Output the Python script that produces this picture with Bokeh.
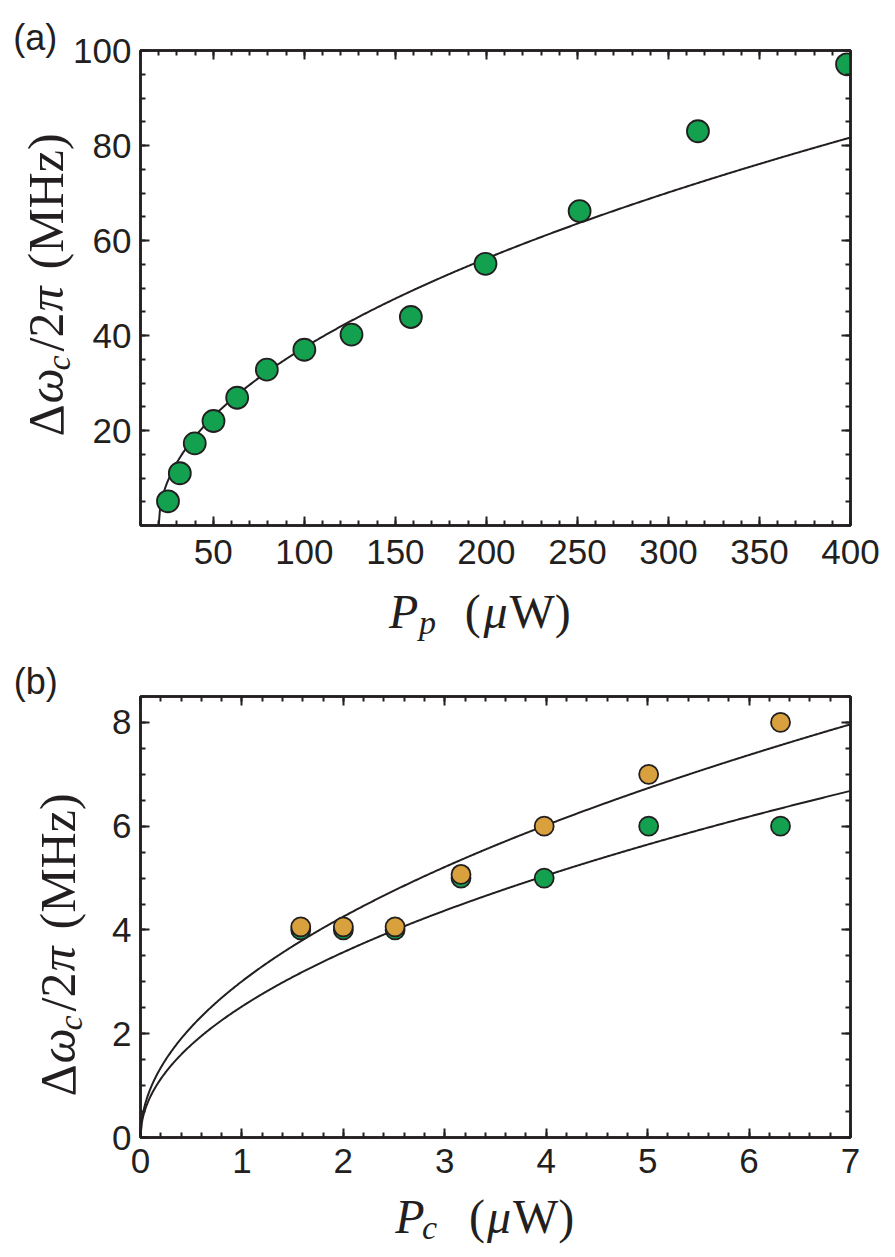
import numpy as np
from bokeh.plotting import figure
from bokeh.models import LinearAxis, FixedTicker, Range1d
from bokeh.core.properties import value
from bokeh.layouts import column
from bokeh.embed import file_html
from bokeh.resources import INLINE

# ---- panel (a): cavity shift vs pump power ----
pump_power_uw = [25.1, 31.6, 39.8, 50.1, 63.1, 79.4, 100.0, 125.9, 158.5, 199.5, 251.2, 316.2, 398.1]
shift_a_mhz = [5.1, 11.0, 17.3, 22.0, 26.9, 32.8, 37.0, 40.2, 43.9, 55.1, 66.2, 83.0, 97.1]
# square-root threshold fit: A * sqrt(P - P_th)
fit_a_amp = 4.19
fit_a_threshold = 20.0

xticks_a = [50, 100, 150, 200, 250, 300, 350, 400]
yticks_a = [20, 40, 60, 80, 100]

# ---- panel (b): cavity shift vs coupling power ----
coupling_power_uw = [1.58, 2.0, 2.51, 3.16, 3.98, 5.01, 6.31]
shift_b_green = [4.0, 4.0, 4.0, 5.0, 5.0, 6.0, 6.0]
shift_b_gold = [4.06, 4.06, 4.06, 5.07, 6.0, 7.0, 8.0]
# square-root fits through the origin: A * sqrt(P)
fit_b_green_amp = 2.525
fit_b_gold_amp = 3.01

xticks_b = [0, 1, 2, 3, 4, 5, 6, 7]
yticks_b = [0, 2, 4, 6, 8]

INK = "#231f20"
GREEN = "#13a04f"
GOLD = "#d9a03e"
TICK_FONT = "Liberation Sans"
MATH_FONT = "Liberation Serif"
# the text glyph sits its baseline this fraction of an em below the anchor
BASELINE_DROP = 0.35


def style_axis(ax, ticks, minor):
    ax.ticker = FixedTicker(ticks=ticks, minor_ticks=minor)
    ax.axis_line_color = INK
    ax.axis_line_width = 2.5
    ax.major_tick_line_color = INK
    ax.minor_tick_line_color = INK
    ax.major_tick_line_width = 2
    ax.minor_tick_line_width = 2
    ax.major_tick_in = 9
    ax.major_tick_out = 0
    ax.minor_tick_in = 5
    ax.minor_tick_out = 0
    ax.major_label_text_font = TICK_FONT
    ax.major_label_text_font_size = "35px"
    ax.major_label_text_color = INK


def make_panel(width, height, borders, xr, yr, xticks, xminor, yticks, yminor,
               x_standoff, y_standoff, page_top=0):
    left, right, top, bottom = borders
    p = figure(width=width, height=height,
               x_range=Range1d(*xr), y_range=Range1d(*yr),
               output_backend="svg", toolbar_location=None,
               min_border_left=left, min_border_right=right,
               min_border_top=top, min_border_bottom=bottom)
    p.grid.visible = False
    p.background_fill_color = "white"
    p.border_fill_color = "white"
    p.outline_line_color = INK
    p.outline_line_width = 2.5

    bottom_axis = p.below[0]
    left_axis = p.left[0]
    top_axis = LinearAxis()
    right_axis = LinearAxis()
    p.add_layout(top_axis, "above")
    p.add_layout(right_axis, "right")

    style_axis(bottom_axis, xticks, xminor)
    style_axis(top_axis, xticks, xminor)
    style_axis(left_axis, yticks, yminor)
    style_axis(right_axis, yticks, yminor)

    # mirrored axes carry ticks only
    for ax in (top_axis, right_axis):
        ax.major_label_text_color = None
        ax.major_label_text_font_size = "1px"
        ax.major_label_standoff = 0

    bottom_axis.major_label_standoff = x_standoff
    left_axis.major_label_standoff = y_standoff

    fw = width - left - right
    fh = height - top - bottom

    # whole-page pixel (px, py) -> data coordinates of this panel
    def to_data(px, py):
        py = py - page_top
        x = xr[0] + (px - left) / fw * (xr[1] - xr[0])
        y = yr[1] - (py - top) / fh * (yr[1] - yr[0])
        return x, y

    return p, to_data


def put(p, to_data, px, py, text, size, italic=False, vertical=False, font=MATH_FONT):
    # (px, py): start of the text on its baseline, in page pixels
    if vertical:
        px -= BASELINE_DROP * size
    else:
        py -= BASELINE_DROP * size
    x, y = to_data(px, py)
    p.text(x=[x], y=[y], text=[text], text_font=value(font),
           text_font_size=f"{size}px",
           text_font_style="italic" if italic else "normal",
           text_color=INK, text_align="left", text_baseline="alphabetic",
           angle=np.pi / 2 if vertical else 0.0, level="overlay")


# (text, size, italic, lowered, advance-after) for "Δω_c/2π (MHz)"
Y_LABEL_RUNS = [
    ("Δ", 50, False, 0, 33),
    ("ω", 50, True, 0, 33),
    ("c", 34, True, 7, 19),
    ("/2", 50, False, 0, 40),
    ("π", 50, True, 0, 42),
    ("(MHz)", 50, False, 0, 0),
]


def y_label(p, to_data, base_x, start_y):
    # rotated label read bottom to top
    y = start_y
    for text, size, italic, low, adv in Y_LABEL_RUNS:
        put(p, to_data, base_x + low, y, text, size, italic=italic, vertical=True)
        y -= adv


def x_label(p, to_data, px, base_y, sub_letter, sub_x, xs):
    # "P_sub (μW)"
    put(p, to_data, px, base_y, "P", 48, italic=True)
    put(p, to_data, sub_x, base_y + 6, sub_letter, 34, italic=True)
    put(p, to_data, xs[0], base_y, "(", 48)
    put(p, to_data, xs[1], base_y, "μ", 48, italic=True)
    put(p, to_data, xs[2], base_y, "W)", 48)


PAGE_SPLIT = 660

# ---------------- panel (a) ----------------
pa, map_a = make_panel(895, PAGE_SPLIT, (140, 41, 50, PAGE_SPLIT - 525), (10, 400), (0, 100),
                       xticks_a, list(range(10, 401, 10)),
                       yticks_a, list(range(0, 101, 5)),
                       x_standoff=14, y_standoff=9)

fit_x_a = np.linspace(fit_a_threshold, 400, 500)
fit_y_a = fit_a_amp * np.sqrt(fit_x_a - fit_a_threshold)
pa.line(fit_x_a, fit_y_a, line_color=INK, line_width=2)
pa.scatter(pump_power_uw, shift_a_mhz, marker="circle", size=22,
           fill_color=GREEN, line_color=INK, line_width=1.8)

put(pa, map_a, 12, 49.5, "(a)", 36, font=TICK_FONT)
y_label(pa, map_a, 62, 436)
x_label(pa, map_a, 390, 628, "p", 420, [466, 485, 511])

# ---------------- panel (b) ----------------
pb, map_b = make_panel(895, 1257 - PAGE_SPLIT, (139, 45, 696 - PAGE_SPLIT, 120), (0, 7), (0, 8.5),
                       xticks_b, [round(0.2 * k, 1) for k in range(0, 36)],
                       yticks_b, [0.5 * k for k in range(0, 18)],
                       x_standoff=11, y_standoff=9, page_top=PAGE_SPLIT)

fit_x_b = np.linspace(0, 7, 700)
pb.line(fit_x_b, fit_b_gold_amp * np.sqrt(fit_x_b), line_color=INK, line_width=2)
pb.line(fit_x_b, fit_b_green_amp * np.sqrt(fit_x_b), line_color=INK, line_width=2)
pb.scatter(coupling_power_uw, shift_b_green, marker="circle", size=19,
           fill_color=GREEN, line_color=INK, line_width=1.8)
pb.scatter(coupling_power_uw, shift_b_gold, marker="circle", size=19,
           fill_color=GOLD, line_color=INK, line_width=1.8)

put(pb, map_b, 12, 694, "(b)", 36, font=TICK_FONT)
y_label(pb, map_b, 74, 1096)
x_label(pb, map_b, 394, 1233, "c", 421, [468, 486, 512])

layout = column(pa, pb)
open("out.html", "w").write(file_html(layout, INLINE))
